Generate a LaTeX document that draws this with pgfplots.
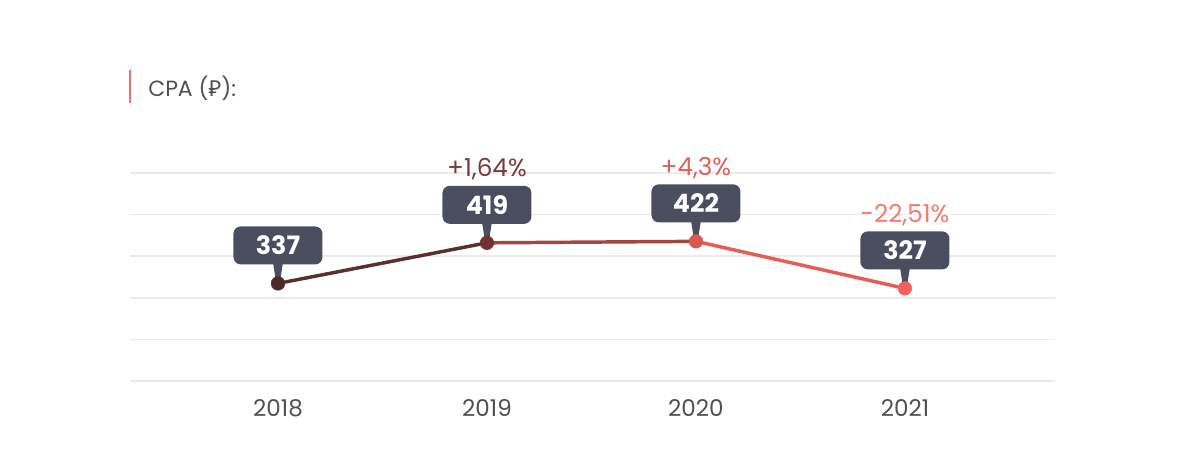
\documentclass[border=0pt]{standalone}
\usepackage{pgfplots}
\pgfplotsset{compat=1.18}
\usepackage{fontspec}
\setmainfont{Poppins}
\newfontfamily\rubfont{Noto Sans}
\usetikzlibrary{shapes.callouts}

\definecolor{slate}{HTML}{4B4E5F}
\definecolor{gridc}{HTML}{EBEBEB}
\definecolor{ticktext}{HTML}{505050}
\definecolor{titlebar}{HTML}{E8736C}
\definecolor{m18}{HTML}{4A2A2A}
\definecolor{m19}{HTML}{703232}
\definecolor{m20}{HTML}{D95850}
\definecolor{m21}{HTML}{F2625A}
\definecolor{p19}{HTML}{7A3A3A}
\definecolor{p20}{HTML}{D9625A}
\definecolor{p21}{HTML}{F27A71}

% 1px of the reference = 0.75pt
\begin{document}
\begin{tikzpicture}
\begin{axis}[
    scale only axis,
    width=693.75pt, height=156pt,
    xmin=-0.708, xmax=3.718,
    ymin=140, ymax=560,
    xtick={0,1,2,3},
    xticklabels={2018,2019,2020,2021},
    ytick={140,224,308,392,476,560},
    yticklabels={},
    ymajorgrids,
    grid style={gridc, line width=1.2pt},
    axis line style={draw=none},
    tick style={draw=none},
    xticklabel style={font=\fontsize{17.3}{18}\selectfont, text=ticktext, yshift=-10pt},
    colormap={cpa}{rgb255=(74,42,42) rgb255=(112,50,50) rgb255=(217,88,80) rgb255=(242,98,90)},
    point meta min=0, point meta max=3,
    clip=false,
]
% line, coloured along x
\addplot[mesh, mark=none, point meta=x, line width=2.6pt] coordinates {
    (0,337) (1,419) (2,422) (3,327)};
% value callouts
\addplot[draw=none, mark=none,
    nodes near coords,
    every node near coord/.append style={
        rectangle callout, fill=slate, text=white,
        font=\bfseries\fontsize{19}{19}\selectfont,
        /pgf/number format/assume math mode=true,
        /pgf/number format/fixed, /pgf/number format/precision=0,
        rounded corners=5.5pt,
        minimum width=66.75pt, minimum height=28.5pt, inner sep=0pt,
        anchor=center, yshift=28.5pt,
        callout relative pointer={(270:22.5pt)},
        callout pointer width=7pt},
] coordinates {
    (0,337) (1,419) (2,422) (3,327)};
% markers
\addplot[scatter, only marks, point meta=explicit symbolic, mark=*, mark size=5.1pt,
    scatter/classes={
        a={mark=*, draw=m18, fill=m18},
        b={mark=*, draw=m19, fill=m19},
        c={mark=*, draw=m20, fill=m20},
        d={mark=*, draw=m21, fill=m21}},
] coordinates {
    (0,337) [a] (1,419) [b] (2,422) [c] (3,327) [d]};
% percentage changes
\addplot[draw=none, mark=none, point meta=explicit symbolic,
    nodes near coords,
    every node near coord/.append style={
        font=\fontsize{18.5}{19}\selectfont, anchor=center, yshift=55pt},
] coordinates {
    (1,419) [\textcolor{p19}{+1,64\%}]
    (2,422) [\textcolor{p20}{+4,3\%}]
    (3,327) [\textcolor{p21}{-22,51\%}]};
% title
\draw[titlebar, line width=1.5pt]
    ([yshift=52.5pt]rel axis cs:0,1) -- ([yshift=77.25pt]rel axis cs:0,1);
\node[anchor=west, font=\fontsize{16.5}{17}\selectfont, text=ticktext, inner sep=0pt]
    at ([xshift=13.5pt, yshift=63.75pt]rel axis cs:0,1)
    {CPA ({\rubfont ₽}):};
\end{axis}
\pgfresetboundingbox
\path[use as bounding box]
    ([shift={(-97.5pt,-69.75pt)}]current axis.south west)
    rectangle ([shift={(96.75pt,129.75pt)}]current axis.north east);
\end{tikzpicture}
\end{document}
